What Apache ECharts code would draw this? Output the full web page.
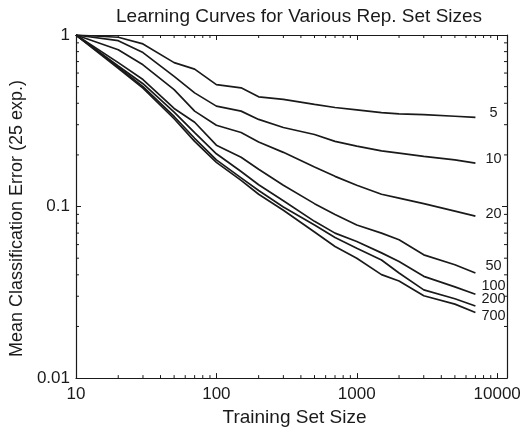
<!DOCTYPE html>
<html>
<head>
<meta charset="utf-8">
<script src="https://cdn.jsdelivr.net/npm/echarts@6/dist/echarts.min.js"></script>
<style>
  html, body { margin: 0; padding: 0; background: #fff; }
  #chart { width: 527px; height: 432px; }
</style>
</head>
<body>
<div id="chart"></div>
<script>
// training set sizes (x) and mean error per representation set size
var trainSizes = [10, 20, 30, 50, 70, 100, 150, 200, 300, 500, 700, 1000, 1500, 2000, 3000, 5000, 7000];
var repSizes = ['5', '10', '20', '50', '100', '200', '700'];
var err5   = [1.0, 0.97, 0.887, 0.69, 0.633, 0.514, 0.492, 0.436, 0.421, 0.394, 0.378, 0.366, 0.353, 0.347, 0.343, 0.336, 0.331];
var err10  = [1.0, 0.927, 0.79, 0.574, 0.46, 0.385, 0.36, 0.322, 0.289, 0.263, 0.24, 0.225, 0.211, 0.205, 0.196, 0.187, 0.179];
var err20  = [1.0, 0.82, 0.67, 0.48, 0.36, 0.298, 0.27, 0.238, 0.207, 0.17, 0.15, 0.133, 0.118, 0.112, 0.104, 0.094, 0.088];
var err50  = [1.0, 0.69, 0.55, 0.373, 0.31, 0.228, 0.194, 0.165, 0.133, 0.104, 0.09, 0.078, 0.07, 0.064, 0.0523, 0.0458, 0.041];
var err100 = [1.0, 0.66, 0.52, 0.355, 0.27, 0.203, 0.16, 0.134, 0.108, 0.082, 0.07, 0.0625, 0.0537, 0.0478, 0.0392, 0.034, 0.0308];
var err200 = [1.0, 0.65, 0.50, 0.335, 0.25, 0.187, 0.147, 0.124, 0.0995, 0.078, 0.066, 0.0572, 0.0488, 0.041, 0.0327, 0.029, 0.0263];
var err700 = [1.0, 0.64, 0.49, 0.325, 0.24, 0.181, 0.142, 0.118, 0.0952, 0.071, 0.0585, 0.050, 0.0401, 0.0368, 0.0302, 0.027, 0.0241];
var allErr = [err5, err10, err20, err50, err100, err200, err700];

// log minor tick positions
var minorX = [20, 30, 40, 50, 60, 70, 80, 90, 200, 300, 400, 500, 600, 700, 800, 900,
              2000, 3000, 4000, 5000, 6000, 7000, 8000, 9000];
var minorY = [0.02, 0.03, 0.04, 0.05, 0.06, 0.07, 0.08, 0.09, 0.2, 0.3, 0.4, 0.5, 0.6, 0.7, 0.8, 0.9];

var X_MIN = 10, X_MAX = 11750, Y_MIN = 0.01, Y_MAX = 1;
var FONT = '"Liberation Sans", Arial, sans-serif';
var INK = '#1a1a1a';

// end label nudges (px)
var labelNudge = {
  '5': [14, -4], '10': [10, -4], '20': [10, -2], '50': [10, -7],
  '100': [6, -8], '200': [6, -7], '700': [6, 3]
};

var myChart = echarts.init(document.getElementById('chart'), null, {renderer: 'canvas'});

function isDecade(v) {
  var l = Math.log10(v);
  return Math.abs(l - Math.round(l)) < 1e-6;
}

function axisBase(pos, showLabel) {
  return {
    type: 'log',
    position: pos,
    axisLine: {show: true, onZero: false, lineStyle: {color: INK, width: 1.2}},
    axisTick: {show: true, inside: true, length: 5, lineStyle: {color: INK, width: 1}},
    splitLine: {show: false},
    minorTick: {show: false},
    axisLabel: {
      show: showLabel, color: INK, fontSize: 17, fontFamily: FONT,
      showMaxLabel: false,
      formatter: function (v) { return isDecade(v) ? String(+v.toPrecision(6)) : ''; }
    }
  };
}

var xBottom = axisBase('bottom', true);
xBottom.min = X_MIN; xBottom.max = X_MAX;
xBottom.axisLabel.margin = 8;
xBottom.name = 'Training Set Size';
xBottom.nameLocation = 'middle';
xBottom.nameGap = 29;
xBottom.nameTextStyle = {color: INK, fontSize: 19, fontFamily: FONT, padding: [0, 0, 0, 6]};

var xTop = axisBase('top', false);
xTop.min = X_MIN; xTop.max = X_MAX;

var yLeft = axisBase('left', true);
yLeft.min = Y_MIN; yLeft.max = Y_MAX;
yLeft.axisLabel.margin = 6;
yLeft.axisLabel.showMaxLabel = true;
yLeft.name = 'Mean Classification Error (25 exp.)';
yLeft.nameLocation = 'middle';
yLeft.nameGap = 42;
yLeft.nameTextStyle = {color: INK, fontSize: 18, fontFamily: FONT, padding: [0, 24, 0, 0]};

var yRight = axisBase('right', false);
yRight.min = Y_MIN; yRight.max = Y_MAX;

var series = repSizes.map(function (name, i) {
  var ys = allErr[i];
  return {
    name: name,
    type: 'line',
    xAxisIndex: 0, yAxisIndex: 0,
    data: trainSizes.map(function (x, k) { return [x, ys[k]]; }),
    symbol: 'none',
    lineStyle: {color: INK, width: 1.7},
    silent: true,
    endLabel: {
      show: true,
      formatter: name,
      color: INK,
      fontSize: 14.5,
      fontFamily: FONT,
      distance: 0,
      offset: labelNudge[name]
    }
  };
});

// minor ticks along bottom/top
series.push({
  type: 'custom',
  silent: true,
  xAxisIndex: 0, yAxisIndex: 0,
  data: minorX.map(function (x) { return [x, Y_MIN]; }),
  renderItem: function (params, api) {
    var b = api.coord([api.value(0), Y_MIN]);
    var t = api.coord([api.value(0), Y_MAX]);
    return {type: 'group', children: [
      {type: 'line', shape: {x1: b[0], y1: b[1], x2: b[0], y2: b[1] - 3}, style: {stroke: INK, lineWidth: 1}},
      {type: 'line', shape: {x1: t[0], y1: t[1], x2: t[0], y2: t[1] + 3}, style: {stroke: INK, lineWidth: 1}}
    ]};
  }
});
// minor ticks along left/right
series.push({
  type: 'custom',
  silent: true,
  xAxisIndex: 0, yAxisIndex: 0,
  data: minorY.map(function (y) { return [X_MIN, y]; }),
  renderItem: function (params, api) {
    var l = api.coord([X_MIN, api.value(1)]);
    var r = api.coord([X_MAX, api.value(1)]);
    return {type: 'group', children: [
      {type: 'line', shape: {x1: l[0], y1: l[1], x2: l[0] + 3, y2: l[1]}, style: {stroke: INK, lineWidth: 1}},
      {type: 'line', shape: {x1: r[0], y1: r[1], x2: r[0] - 3, y2: r[1]}, style: {stroke: INK, lineWidth: 1}}
    ]};
  }
});

var option = {
  animation: false,
  backgroundColor: '#fff',
  title: {
    text: 'Learning Curves for Various Rep. Set Sizes',
    left: 111, top: 2,
    textStyle: {color: INK, fontSize: 19, fontWeight: 'normal', fontFamily: FONT}
  },
  grid: {left: 72, right: 20, top: 35, bottom: 51},
  xAxis: [xBottom, xTop],
  yAxis: [yLeft, yRight],
  series: series
};

myChart.setOption(option);
</script>
</body>
</html>
